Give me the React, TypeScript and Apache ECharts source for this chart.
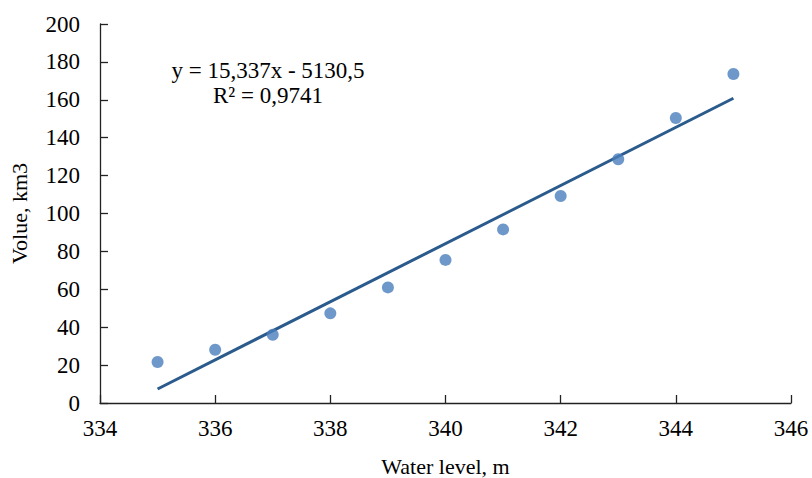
import React, { useEffect, useRef } from "react";
import * as echarts from "echarts";

const levels = [335, 336, 337, 338, 339, 340, 341, 342, 343, 344, 345];
const volumes = [21.6, 28.1, 36.0, 47.3, 61.0, 75.5, 91.6, 109.2, 128.6, 150.4, 173.6];
const trendX = [335, 345];
const trendY = [7.4, 160.8];
const equationText = "y = 15,337x - 5130,5";
const r2Text = "R² = 0,9741";
const xTitle = "Water level, m";
const yTitle = "Volue, km3";

const FONT = '"Liberation Serif", "Times New Roman", serif';

export default function App() {
  const ref = useRef<HTMLDivElement>(null);
  useEffect(() => {
    if (!ref.current) return;
    const chart = echarts.init(ref.current, null, { renderer: "svg" });
    chart.setOption({
      animation: false,
      backgroundColor: "#ffffff",
      grid: { left: 100, right: 21, top: 24, bottom: 75, containLabel: false, outerBoundsMode: "none" },
      xAxis: {
        type: "value",
        min: 334,
        max: 346,
        interval: 2,
        name: xTitle,
        nameLocation: "middle",
        nameGap: 52,
        nameMoveOverlap: false,
        nameTextStyle: { fontFamily: FONT, fontSize: 22, color: "#000" },
        splitLine: { show: false },
        axisLine: { show: true, onZero: false, lineStyle: { color: "#222", width: 1.3 } },
        axisTick: { show: true, inside: true, length: 8, lineStyle: { color: "#222", width: 1.3 } },
        axisLabel: { fontFamily: FONT, fontSize: 23, color: "#000", margin: 14 },
      },
      yAxis: {
        type: "value",
        min: 0,
        max: 200,
        interval: 20,
        name: yTitle,
        nameLocation: "middle",
        nameGap: 70,
        nameMoveOverlap: false,
        nameRotate: 90,
        nameTextStyle: { fontFamily: FONT, fontSize: 22, color: "#000" },
        splitLine: { show: false },
        axisLine: { show: true, lineStyle: { color: "#222", width: 1.3 } },
        axisTick: { show: true, inside: true, length: 8, lineStyle: { color: "#222", width: 1.3 } },
        axisLabel: { fontFamily: FONT, fontSize: 23, color: "#000", margin: 20 },
      },
      graphic: [
        {
          type: "text",
          x: 268,
          y: 70,
          style: {
            text: equationText,
            fontFamily: FONT,
            fontSize: 23,
            fill: "#000",
            align: "center",
            verticalAlign: "middle",
          },
        },
        {
          type: "text",
          x: 268,
          y: 95,
          style: {
            text: r2Text,
            fontFamily: FONT,
            fontSize: 23,
            fill: "#000",
            align: "center",
            verticalAlign: "middle",
          },
        },
      ],
      series: [
        {
          type: "line",
          data: trendX.map((x, i) => [x, trendY[i]]),
          showSymbol: false,
          symbol: "none",
          lineStyle: { color: "#2A5B8C", width: 3 },
          z: 2,
        },
        {
          type: "scatter",
          data: levels.map((x, i) => [x, volumes[i]]),
          symbol: "circle",
          symbolSize: 12,
          itemStyle: { color: "#4A7EBB" },
          z: 3,
        },
      ],
    });
    return () => chart.dispose();
  }, []);
  return (
    <div
      ref={ref}
      style={{ position: "absolute", left: 0, top: 0, width: 812, height: 478 }}
    />
  );
}
